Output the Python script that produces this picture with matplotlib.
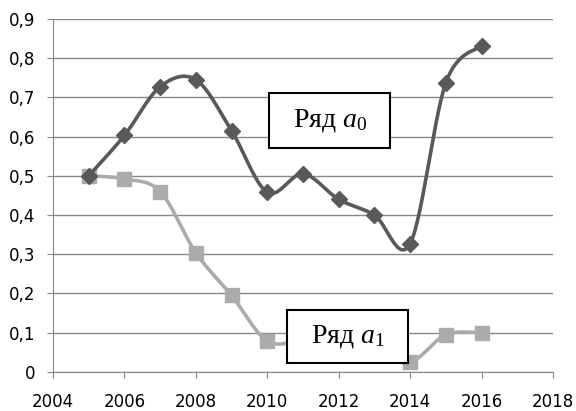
import numpy as np
import matplotlib.pyplot as plt
from matplotlib.patches import Rectangle
from matplotlib.ticker import FuncFormatter

years = [2005, 2006, 2007, 2008, 2009, 2010, 2011, 2012, 2013, 2014, 2015, 2016]
a0 = [0.50, 0.603, 0.727, 0.745, 0.615, 0.458, 0.505, 0.44, 0.40, 0.327, 0.737, 0.832]
a1 = [0.50, 0.492, 0.46, 0.304, 0.195, 0.079, 0.08, 0.07, 0.05, 0.025, 0.095, 0.10]

x_ticks = [2004, 2006, 2008, 2010, 2012, 2014, 2016, 2018]
y_ticks = [0, 0.1, 0.2, 0.3, 0.4, 0.5, 0.6, 0.7, 0.8, 0.9]


def smooth(x, y, n=30):
    # excel-like smoothed line: bezier through points, catmull-rom control points
    x = np.asarray(x, float)
    y = np.asarray(y, float)
    px = np.concatenate([[x[0]], x, [x[-1]]])
    py = np.concatenate([[y[0]], y, [y[-1]]])
    t = np.linspace(0, 1, n)
    xs, ys = [], []
    for i in range(1, len(px) - 2):
        p0 = np.array([px[i], py[i]])
        p3 = np.array([px[i + 1], py[i + 1]])
        c1 = p0 + (p3 - np.array([px[i - 1], py[i - 1]])) / 6
        c2 = p3 - (np.array([px[i + 2], py[i + 2]]) - p0) / 6
        b = ((1 - t) ** 3)[:, None] * p0 + (3 * (1 - t) ** 2 * t)[:, None] * c1 \
            + (3 * (1 - t) * t ** 2)[:, None] * c2 + (t ** 3)[:, None] * p3
        xs.append(b[:, 0])
        ys.append(b[:, 1])
    return np.concatenate(xs), np.concatenate(ys)


plt.rcParams['mathtext.fontset'] = 'custom'
plt.rcParams['mathtext.rm'] = 'Liberation Serif'
plt.rcParams['mathtext.it'] = 'Liberation Serif:italic'

fig = plt.figure(figsize=(5.76, 4.11), dpi=100)
ax = fig.add_axes([0.092, 0.095, 0.868, 0.859])

c0 = '#595959'
c1 = '#ababab'

sx, sy = smooth(years, a1)
ax.plot(sx, sy, color=c1, lw=2.6, zorder=3)
ax.plot(years, a1, ls='none', marker='s', ms=10, color=c1, zorder=4)

sx, sy = smooth(years, a0)
ax.plot(sx, sy, color=c0, lw=2.6, zorder=5)
ax.plot(years, a0, ls='none', marker='D', ms=8.5, color=c0, zorder=6)

ax.set_xlim(2004, 2018)
ax.set_ylim(0, 0.9)
ax.set_xticks(x_ticks)
ax.set_yticks(y_ticks)
ax.yaxis.set_major_formatter(FuncFormatter(lambda v, p: '0' if v == 0 else f'{v:.1f}'.replace('.', ',')))
ax.grid(axis='y', color='#888888', lw=1)
ax.set_axisbelow(True)
for s in ['top', 'right']:
    ax.spines[s].set_visible(False)
for s in ['left', 'bottom']:
    ax.spines[s].set_color('#888888')
ax.tick_params(colors='#888888', labelcolor='black', labelsize=12, length=4.3)
ax.tick_params(axis='x', pad=11)
ax.tick_params(axis='y', pad=8.5)

# text boxes
ax.add_patch(Rectangle((2010.05, 0.572), 3.39, 0.138, fc='white', ec='black', lw=1.5, zorder=8))
ax.text(2011.75, 0.641, 'Ряд $a_0$', ha='center', va='center', fontsize=20,
        family='Liberation Serif', zorder=9)
ax.add_patch(Rectangle((2010.55, 0.024), 3.39, 0.135, fc='white', ec='black', lw=1.5, zorder=8))
ax.text(2012.25, 0.091, 'Ряд $a_1$', ha='center', va='center', fontsize=20,
        family='Liberation Serif', zorder=9)

fig.savefig('out.png', dpi=100)
